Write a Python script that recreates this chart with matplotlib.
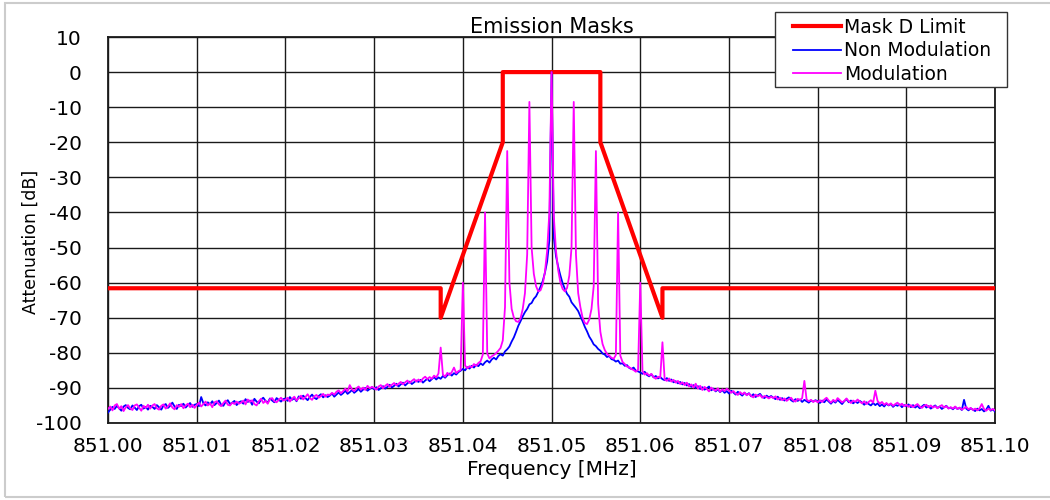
import numpy as np
import matplotlib
matplotlib.use('Agg')
from matplotlib import pyplot as plt
from matplotlib.patches import Rectangle

plt.rcParams['font.family'] = ['DejaVu Sans']
plt.rcParams['axes.unicode_minus'] = False

# Mask D limit corner points
mask_freq = [851.00, 851.0375, 851.0375, 851.0445, 851.0445, 851.0555, 851.0555, 851.0625, 851.0625, 851.10]
mask_db = [-61.6, -61.6, -70, -20, 0, 0, -20, -70, -61.6, -61.6]

# spectrum sampled every 0.25 kHz, 851.000 .. 851.100 MHz (rows of 5 kHz)
non_mod = [
    -97.0, -96.2, -95.4, -96.0, -95.1, -95.8, -96.5, -95.3, -94.9, -95.7, -96.1, -95.0, -95.6, -96.3, -95.2, -94.8, -95.9, -95.4, -96.2, -95.1,
    -95.4, -96.0, -94.9, -95.5, -96.2, -95.0, -94.6, -95.7, -95.1, -94.2, -95.3, -96.0, -94.8, -95.2, -94.5, -95.6, -94.9, -94.3, -95.4, -94.8,
    -94.6, -95.2, -92.6, -94.4, -95.0, -94.1, -94.7, -93.8, -94.9, -94.3, -93.6, -94.8, -95.1, -94.0, -93.5, -94.6, -94.2, -93.7, -94.9, -94.1,
    -93.8, -94.5, -93.2, -94.0, -93.6, -94.8, -93.1, -93.9, -94.4, -93.3, -92.8, -93.7, -94.2, -93.0, -93.6, -94.1, -92.9, -93.4, -93.9, -93.2,
    -93.0, -93.7, -92.6, -93.4, -92.9, -93.8, -92.4, -93.1, -92.2, -92.9, -93.5, -92.6, -91.9, -92.8, -93.2, -92.3, -91.8, -92.7, -92.1, -92.6,
    -92.2, -91.6, -92.5, -91.9, -91.3, -92.0, -91.5, -90.8, -91.7, -91.2, -90.6, -91.4, -90.9, -90.3, -91.1, -90.5, -90.0, -90.8, -90.3, -89.8,
    -90.4, -89.8, -90.6, -90.1, -89.5, -90.2, -89.7, -89.1, -89.9, -89.4, -88.8, -89.6, -89.0, -88.5, -89.3, -88.7, -88.2, -88.9, -88.4, -87.9,
    -88.3, -87.7, -88.5, -87.9, -87.4, -88.1, -87.5, -86.9, -87.6, -87.0, -87.4, -86.6, -87.1, -86.4, -85.9, -86.5, -85.8, -86.2, -85.5, -85.1,
    -84.6, -85.0, -84.1, -84.5, -83.7, -84.2, -83.4, -83.8, -83.0, -83.5, -82.7, -82.2, -82.8, -81.9, -81.4, -81.9, -80.9, -80.4, -80.8, -79.6,
    -79.0, -78.2, -76.8, -75.6, -74.0, -72.3, -71.0, -69.6, -68.4, -67.5, -66.2, -65.8, -64.6, -63.9, -62.6, -61.2, -59.6, -57.2, -54.0, -48.0,
    0.0, -47.0, -52.5, -55.5, -58.0, -60.2, -61.8, -63.2, -64.0, -65.6, -66.4, -67.2, -68.1, -69.6, -71.0, -72.6, -73.9, -75.4, -76.4, -77.6,
    -78.1, -78.9, -79.4, -80.2, -80.5, -81.2, -80.9, -81.8, -82.0, -82.5, -82.2, -83.1, -83.0, -83.7, -83.5, -84.3, -84.6, -84.2, -85.1, -85.3,
    -85.6, -86.0, -85.4, -86.3, -86.7, -86.1, -87.0, -86.6, -87.3, -86.9, -87.5, -87.8, -87.2, -88.0, -87.6, -88.4, -88.1, -88.7, -88.3, -89.0,
    -88.6, -89.3, -88.9, -89.7, -89.2, -90.0, -89.5, -90.3, -89.8, -90.5, -90.1, -89.6, -90.7, -90.2, -91.0, -90.4, -91.2, -90.6, -91.4, -90.9,
    -91.6, -90.8, -91.3, -91.9, -91.1, -91.7, -92.2, -91.4, -92.0, -91.5, -92.4, -91.8, -92.6, -92.1, -91.7, -92.5, -92.9, -92.2, -92.7, -92.3,
    -92.8, -93.2, -92.5, -93.4, -92.9, -93.6, -93.1, -92.7, -93.5, -93.9, -93.2, -93.7, -93.3, -94.0, -93.4, -93.8, -94.2, -93.6, -93.9, -93.5,
    -93.8, -94.3, -93.6, -94.1, -93.3, -93.9, -94.5, -93.7, -94.2, -93.4, -94.0, -94.6, -93.8, -93.2, -94.1, -93.6, -94.4, -93.9, -94.3, -93.7,
    -94.2, -94.8, -94.1, -94.6, -95.0, -94.3, -94.9, -94.4, -95.2, -94.7, -95.3, -94.5, -95.0, -94.6, -95.4, -94.8, -95.1, -94.7, -95.5, -94.9,
    -95.2, -94.7, -95.5, -94.9, -95.6, -95.1, -95.8, -95.3, -94.8, -95.6, -95.2, -95.9, -95.4, -95.0, -95.7, -95.3, -96.0, -95.5, -95.1, -95.8,
    -95.6, -96.1, -95.4, -96.0, -95.7, -96.3, -93.4, -95.9, -96.4, -95.8, -96.2, -96.6, -95.9, -96.4, -96.0, -96.7, -96.2, -95.1, -96.5, -96.1,
    -96.8]

modulated = [
    -96.0, -95.3, -96.4, -95.0, -94.6, -95.9, -95.2, -96.6, -95.5, -94.9, -95.8, -96.3, -95.0, -94.7, -95.6, -96.5, -95.1, -95.7, -94.8, -95.9,
    -95.0, -94.6, -95.8, -96.2, -95.1, -94.7, -95.9, -95.3, -94.4, -95.6, -96.1, -94.9, -95.4, -94.6, -95.8, -95.0, -94.5, -95.5, -94.8, -95.7,
    -94.9, -94.2, -95.3, -94.6, -93.9, -95.0, -94.4, -95.5, -94.1, -93.8, -94.7, -95.2, -94.3, -93.6, -94.8, -95.0, -94.2, -94.6, -93.9, -94.5,
    -94.2, -93.6, -94.7, -93.3, -94.0, -93.5, -94.6, -95.0, -93.8, -93.1, -94.3, -93.7, -94.5, -93.2, -92.9, -93.8, -94.1, -93.4, -92.8, -93.6,
    -93.4, -92.8, -93.9, -93.1, -92.5, -93.6, -92.9, -92.2, -93.3, -92.6, -91.8, -92.9, -93.4, -92.4, -92.0, -92.8, -92.3, -91.7, -92.5, -91.9,
    -92.0, -91.4, -91.9, -91.1, -90.7, -91.5, -90.9, -90.2, -91.0, -89.2, -90.4, -90.9, -90.1, -89.6, -90.5, -89.9, -90.6, -89.4, -90.1, -89.7,
    -90.0, -90.5, -89.6, -89.2, -90.1, -89.4, -88.9, -89.7, -89.1, -88.6, -89.3, -88.8, -88.3, -89.0, -88.4, -87.9, -88.6, -88.0, -87.5, -88.2,
    -87.6, -88.2, -87.3, -86.8, -87.5, -86.9, -87.4, -86.5, -87.0, -85.9, -78.5, -86.2, -86.8, -85.7, -86.3, -85.5, -84.2, -85.8, -85.2, -84.9,
    -60.0, -83.6, -84.4, -83.8, -84.1, -83.2, -83.7, -82.9, -82.4, -80.5, -40.0, -80.2, -81.6, -81.0, -80.6, -80.1, -79.4, -78.6, -76.5, -67.0,
    -22.5, -60.0, -67.5, -70.0, -71.0, -71.2, -70.2, -67.5, -63.0, -52.0, -8.5, -50.0, -57.5, -61.0, -62.5, -62.2, -60.5, -57.0, -51.0, -40.0,
    0.0, -41.0, -51.0, -56.5, -60.0, -61.8, -62.5, -61.5, -58.0, -50.0, -8.5, -52.0, -63.0, -67.0, -70.0, -71.5, -71.8, -70.5, -67.5, -61.0,
    -22.5, -66.0, -74.0, -77.5, -79.2, -80.3, -80.8, -81.4, -81.7, -80.6, -40.0, -80.8, -82.6, -83.2, -83.9, -84.1, -84.6, -84.9, -85.4, -84.8,
    -60.0, -85.2, -86.2, -85.8, -86.5, -86.0, -86.9, -87.4, -86.8, -87.1, -77.0, -87.6, -88.0, -87.3, -88.2, -87.7, -88.5, -88.0, -88.9, -88.4,
    -89.2, -88.5, -89.6, -89.0, -89.9, -88.8, -90.2, -89.4, -90.6, -89.7, -90.3, -91.0, -89.9, -90.5, -90.8, -90.1, -91.1, -90.4, -90.9, -90.2,
    -90.7, -91.4, -90.9, -91.6, -92.0, -91.2, -91.8, -91.3, -92.1, -91.6, -92.3, -92.7, -91.9, -92.4, -92.0, -92.8, -92.3, -92.6, -93.0, -92.5,
    -92.9, -92.4, -93.3, -92.8, -93.5, -93.0, -93.7, -93.2, -92.8, -93.6, -93.9, -93.1, -93.5, -92.9, -88.0, -93.3, -93.8, -93.4, -94.0, -93.6,
    -94.1, -93.5, -94.0, -93.3, -92.8, -93.6, -94.2, -93.4, -93.9, -92.9, -93.5, -94.1, -93.7, -93.0, -93.8, -94.3, -93.6, -94.0, -93.3, -93.9,
    -94.4, -93.8, -94.6, -94.0, -93.5, -94.2, -90.8, -93.7, -94.5, -94.0, -94.8, -94.3, -94.9, -94.4, -95.1, -94.6, -94.2, -95.0, -94.5, -95.2,
    -94.8, -95.4, -94.9, -95.5, -95.0, -94.6, -95.3, -95.7, -95.1, -94.8, -95.5, -95.0, -95.6, -95.2, -95.8, -95.3, -94.9, -95.6, -95.2, -95.9,
    -95.5, -95.9, -95.3, -96.0, -95.6, -96.2, -95.8, -95.4, -96.1, -95.7, -96.3, -95.9, -96.4, -95.8, -94.6, -96.0, -96.5, -95.9, -96.3, -96.0,
    -96.4]

freq = np.linspace(851.00, 851.10, len(non_mod))

x_ticks = [851.00, 851.01, 851.02, 851.03, 851.04, 851.05, 851.06, 851.07, 851.08, 851.09, 851.10]
y_ticks = [-100, -90, -80, -70, -60, -50, -40, -30, -20, -10, 0, 10]

fig = plt.figure(figsize=(10.5, 5), dpi=100)
ax = fig.add_axes([0.1029, 0.154, 0.8448, 0.772])

ax.plot(mask_freq, mask_db, color='#ff0000', lw=3.0, label='Mask D Limit', zorder=3)
ax.plot(freq, non_mod, color='#0000ff', lw=1.3, label='Non Modulation', zorder=4)
ax.plot(freq, modulated, color='#ff00ff', lw=1.3, label='Modulation', zorder=5)

ax.set_xlim(851.00, 851.10)
ax.set_ylim(-100, 10)
ax.set_xticks(x_ticks)
ax.set_xticklabels(['%.2f' % t for t in x_ticks])
ax.set_yticks(y_ticks)
ax.tick_params(length=0, labelsize=14.5)
ax.tick_params(axis='x', pad=10)
ax.tick_params(axis='y', pad=19)
ax.grid(True, color='#1a1a1a', lw=1.0)
ax.set_axisbelow(True)
for s in ax.spines.values():
    s.set_color('#1a1a1a')
    s.set_linewidth(1.3)

ax.set_title('Emission Masks', fontsize=15, pad=3)
ax.set_xlabel('Frequency [MHz]', fontsize=14.5, labelpad=3)
ax.set_ylabel('Attenuation [dB]', fontsize=12.5)
ax.yaxis.set_label_coords(-0.077, 0.47)

# legend text/handles without frame, frame drawn as a box in figure pixels
leg = fig.legend(loc='upper left', bbox_to_anchor=(787 / 1050, 1 - 12 / 500), fontsize=13.5,
                 handlelength=2.6, handletextpad=0.15, labelspacing=0.25, borderpad=0.3,
                 borderaxespad=0, frameon=False)
fig.patches.append(Rectangle((775 / 1050, 1 - 87 / 500), 232 / 1050, 75 / 500, transform=fig.transFigure,
                             facecolor='white', edgecolor='#333333', lw=1.0, zorder=10))
leg.set_zorder(11)

fig.patches.append(Rectangle((5 / 1050, 3 / 500), 1.1, 494 / 500, transform=fig.transFigure,
                             fill=False, edgecolor='#cccccc', lw=1.5))

fig.savefig('out.png', dpi=100)
